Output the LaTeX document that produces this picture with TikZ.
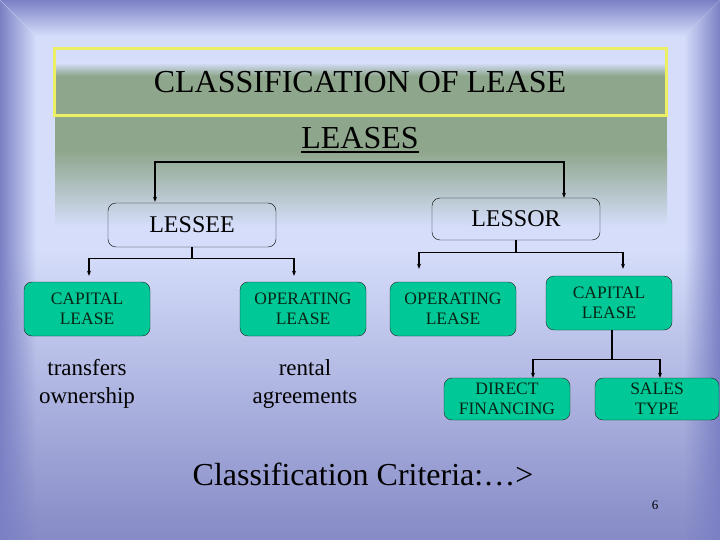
\documentclass[tikz,border=0pt]{standalone}
\usepackage{fontspec}
\setmainfont{Liberation Serif}
\usetikzlibrary{arrows.meta,fadings}

\definecolor{frameblue}{RGB}{122,128,196}
\definecolor{paleblue}{RGB}{213,221,250}
\definecolor{deepblue}{RGB}{134,138,198}
\definecolor{bandgreen}{RGB}{142,166,139}
\definecolor{boxgreen}{RGB}{0,200,150}
\definecolor{titleyellow}{RGB}{236,238,100}
\definecolor{inkgreen}{RGB}{8,36,22}

\tikzfading[name=fadeleft, left color=transparent!0, right color=transparent!100]
\tikzfading[name=faderight, left color=transparent!100, right color=transparent!0]

\begin{document}
\begin{tikzpicture}[x=1pt, y=-1pt, >={Stealth[length=5pt,width=4pt]},
  party/.style={draw, rounded corners=8, minimum width=168, font=\fontsize{24}{28}\selectfont},
  kind/.style={draw=black!85, fill=boxgreen, text=inkgreen, rounded corners=8, align=center,
               minimum width=126, minimum height=54, inner sep=2, font=\fontsize{17.5}{20}\selectfont},
  note/.style={align=center, font=\fontsize{23}{28}\selectfont},
  link/.style={->, line width=1.2}]

  % background
  \useasboundingbox (0,0) rectangle (720,540);
  \fill[paleblue] (0,0) rectangle (720,250);
  \shade[top color=paleblue, bottom color=deepblue] (0,250) rectangle (720,540);
  \shade[top color=frameblue, bottom color=paleblue] (0,0) -- (720,0) -- (684,36) -- (36,36) -- cycle;
  \fill[frameblue, path fading=fadeleft] (0,0) -- (36,36) -- (36,540) -- (0,540) -- cycle;
  \fill[frameblue, path fading=faderight] (720,0) -- (684,36) -- (684,540) -- (720,540) -- cycle;
  \shade[top color=paleblue, bottom color=bandgreen] (55,63) rectangle (667,76);
  \fill[bandgreen] (55,76) rectangle (667,150);
  \shade[top color=bandgreen, bottom color=paleblue] (55,150) rectangle (667,226);

  \node[draw=titleyellow, line width=3, minimum width=612, minimum height=67,
        font=\fontsize{32}{36}\selectfont] (title) at (360,82) {CLASSIFICATION OF LEASE};
  \node[inner sep=0, anchor=base, font=\fontsize{32}{36}\selectfont] (leases) at (360,149) {LEASES};
  \draw[line width=2.5] ([yshift=-3]leases.base west) -- ([yshift=-3]leases.base east);

  \node[party, minimum height=44] (lessee) at (192,225) {LESSEE};
  \node[party, minimum height=42] (lessor) at (516,219) {LESSOR};

  \node[kind] (capL) at (87,309) {CAPITAL\\LEASE};
  \node[kind] (opL)  at (303,309) {OPERATING\\LEASE};
  \node[kind] (opR)  at (453,309) {OPERATING\\LEASE};
  \node[kind] (capR) at (609,303) {CAPITAL\\LEASE};
  \node[kind, minimum height=42] (direct) at (507,399) {DIRECT\\FINANCING};
  \node[kind, minimum height=42, minimum width=124] (sales) at (657,399) {SALES\\TYPE};

  \node[note] (transfers) at (87,384) {transfers\\ownership};
  \node[note] (rental) at (305,384) {rental\\agreements};

  \node[anchor=base, font=\fontsize{32}{36}\selectfont] (criteria) at (363,485) {Classification Criteria:…>};
  \node[anchor=base, font=\fontsize{13}{15}\selectfont] (page) at (655,509) {6};

  \coordinate (fork) at (360,162);
  \draw[link, shorten >=1] (fork) -| ([xshift=-37]lessee.north);
  \draw[link] (fork) -| ([xshift=48]lessor.north);
  \draw[link, shorten >=6] (lessee.south) -- ++(0,11) -| ([xshift=2]capL.north);
  \draw[link, shorten >=6] (lessee.south) -- ++(0,11) -| ([xshift=-9]opL.north);
  \draw[link, shorten >=13] (lessor.south) -- ++(0,12) -| ([xshift=-34]opR.north);
  \draw[link, shorten >=7] (lessor.south) -- ++(0,12) -| ([xshift=14]capR.north);
  \draw[link] ([xshift=3]capR.south) -- ++(0,29) -| ([xshift=26]direct.north);
  \draw[link] ([xshift=3]capR.south) -- ++(0,29) -| ([xshift=3]sales.north);
\end{tikzpicture}
\end{document}
